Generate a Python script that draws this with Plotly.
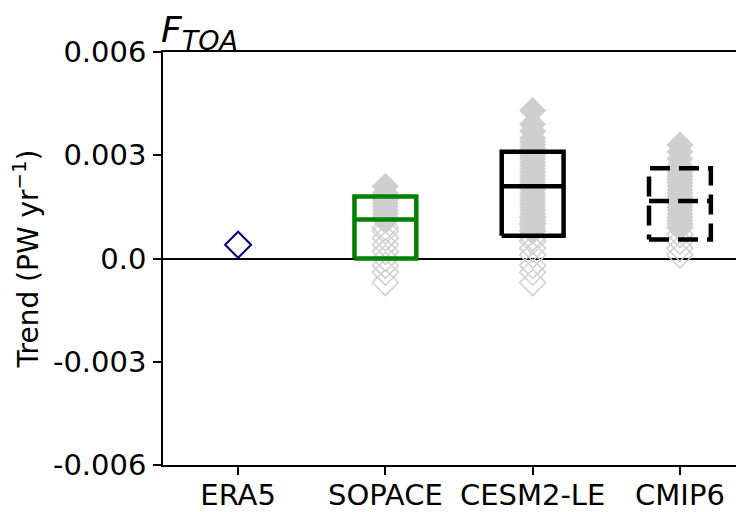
import plotly.graph_objects as go

categories = ["ERA5", "SOPACE", "CESM2-LE", "CMIP6"]

era5_trend = [0.0004]

sopace_filled = [0.0021, 0.0019, 0.0018, 0.0017, 0.0016, 0.0015, 0.0014, 0.0013, 0.0012, 0.0011]
sopace_open = [0.0009, 0.0008, 0.0006, 0.0004, 0.0002, 0.0000, -0.0002, -0.0004, -0.0007]

cesm_filled = [0.0043, 0.0039, 0.0037, 0.0035, 0.0034, 0.0033, 0.0032, 0.0031, 0.0030,
               0.0029, 0.0028, 0.0027, 0.0026, 0.0025, 0.0024, 0.0023, 0.0022, 0.0021,
               0.0021, 0.0020, 0.0019, 0.0018, 0.0017, 0.0016, 0.0015, 0.0014, 0.0013,
               0.0012, 0.0011, 0.0010, 0.0009, 0.0008]
cesm_open = [0.0012, 0.0010, 0.0008, 0.0006, 0.0005, 0.0003, 0.0001, -0.0002, -0.0004, -0.0007]

cmip_filled = [0.0033, 0.0031, 0.0029, 0.0027, 0.0026, 0.0025, 0.0024, 0.0023, 0.0022,
               0.0021, 0.0020, 0.0019, 0.0018, 0.0017, 0.0016, 0.0015, 0.0014, 0.0013,
               0.0012, 0.0011, 0.0010, 0.0009]
cmip_open = [0.0009, 0.0007, 0.0005, 0.0003, 0.0001]

box_low = [0.0, 0.00066, 0.00055]
box_median = [0.00113, 0.0021, 0.00167]
box_high = [0.0018, 0.0031, 0.00262]
box_colors = ["#008000", "#000000", "#000000"]
box_dash = ["solid", "solid", "20px,9px"]

ytick_vals = [-0.006, -0.003, 0.0, 0.003, 0.006]
ytick_text = ["-0.006", "-0.003", "0.0", "0.003", "0.006"]

fig = go.Figure()

gray = "#cfcfcf"
groups = [(1, sopace_filled, sopace_open), (2, cesm_filled, cesm_open), (3, cmip_filled, cmip_open)]
for xi, filled, opened in groups:
    fig.add_trace(go.Scatter(
        x=[xi] * len(filled), y=filled, mode="markers",
        marker=dict(symbol="diamond", size=20, color=gray, line=dict(color=gray, width=1)),
        showlegend=False, hoverinfo="skip"))
    fig.add_trace(go.Scatter(
        x=[xi] * len(opened), y=opened, mode="markers",
        marker=dict(symbol="diamond-open", size=20, color=gray, line=dict(color=gray, width=1.5)),
        showlegend=False, hoverinfo="skip"))

fig.add_trace(go.Scatter(
    x=[0], y=era5_trend, mode="markers",
    marker=dict(symbol="diamond-open", size=20, color="#000080", line=dict(color="#000080", width=2)),
    showlegend=False, hoverinfo="skip"))

hw = 0.21
for i in range(3):
    xc = i + 1
    lo, md, hi = box_low[i], box_median[i], box_high[i]
    fig.add_trace(go.Scatter(
        x=[xc - hw, xc + hw, xc + hw, xc - hw, xc - hw],
        y=[lo, lo, hi, hi, lo], mode="lines",
        line=dict(color=box_colors[i], width=4.5, dash=box_dash[i]),
        showlegend=False, hoverinfo="skip"))
    fig.add_trace(go.Scatter(
        x=[xc - hw, xc + hw], y=[md, md], mode="lines",
        line=dict(color=box_colors[i], width=4.5, dash=box_dash[i]),
        showlegend=False, hoverinfo="skip"))

font_family = "DejaVu Sans"
fig.update_layout(
    width=736, height=504,
    margin=dict(l=155, r=0, t=44, b=44),
    plot_bgcolor="white", paper_bgcolor="white",
    font=dict(family=font_family, size=28, color="black"),
    xaxis=dict(
        range=[-0.51, 3.435], tickvals=[0, 1, 2, 3], ticktext=categories,
        showline=True, linecolor="black", linewidth=1.5, mirror=True,
        ticks="outside", ticklen=8, tickwidth=1.5, tickcolor="black",
        showgrid=False, zeroline=False, tickfont=dict(size=29),
        ticklabelstandoff=-5,
    ),
    yaxis=dict(
        range=[-0.006, 0.006], tickvals=ytick_vals, ticktext=ytick_text,
        showline=True, linecolor="black", linewidth=1.5,
        ticks="outside", ticklen=8, tickwidth=1.5, tickcolor="black",
        showgrid=False, zeroline=True, zerolinecolor="black", zerolinewidth=1.5,
        tickfont=dict(size=29), ticklabelstandoff=1,
        title=dict(text="Trend (PW yr<sup>−1</sup>)", font=dict(size=28), standoff=10),
    ),
    annotations=[dict(
        text="<i>F</i><sub><i><span style='font-size:27px'>TOA</span></i></sub>",
        xref="paper", yref="paper",
        x=0, y=1, xanchor="left", yanchor="bottom", showarrow=False,
        font=dict(size=36, family=font_family, color="black"), yshift=-6, xshift=-4)],
)

fig.write_html("out.html")
